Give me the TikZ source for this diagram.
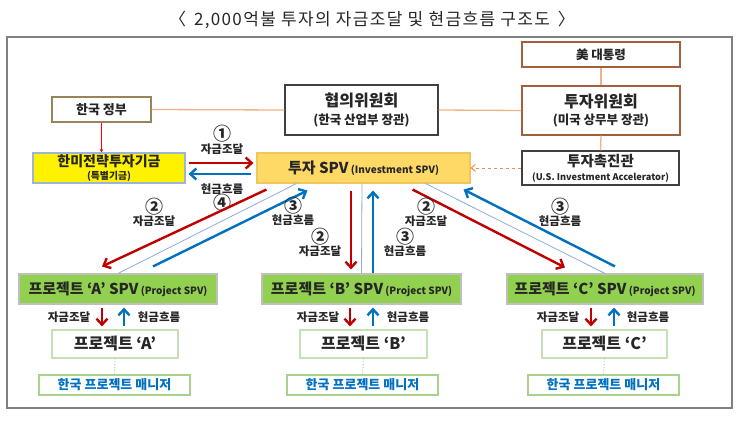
\documentclass[tikz,border=0pt]{standalone}
\usepackage{fontspec}
\setmainfont{Noto Sans CJK KR}
\newfontfamily\titlefont[LetterSpace=8]{Noto Sans CJK KR}
\usetikzlibrary{arrows.meta,calc}
\definecolor{txt}{HTML}{262626}
\definecolor{redA}{HTML}{C00000}
\definecolor{blueA}{HTML}{0070C0}
\definecolor{thinB}{HTML}{8FAADC}
\definecolor{peach}{HTML}{F4B183}
\definecolor{dashO}{HTML}{F08C50}
\definecolor{khaki}{HTML}{978459}
\definecolor{sienna}{HTML}{A0603A}
\definecolor{dgray}{HTML}{404040}
\definecolor{spvfill}{HTML}{FFD966}
\definecolor{spvdraw}{HTML}{F2C55C}
\definecolor{gfill}{HTML}{92D050}
\definecolor{lgreen}{HTML}{C5E0B4}
\definecolor{mgreen}{HTML}{A9D18E}
\definecolor{fundedge}{HTML}{9DB4D8}
\newcommand{\fsz}[1]{\fontsize{#1}{#1}\selectfont}
\begin{document}
\begin{tikzpicture}[x=1pt,y=-1pt,
  box/.style={draw, line width=1.1pt, inner sep=0pt, align=center, text=txt, font=\bfseries},
  bigred/.style={draw=redA, line width=2.4pt, -{Straight Barb[length=6pt,width=11pt]}},
  bigblue/.style={draw=blueA, line width=2.4pt, -{Straight Barb[length=6pt,width=11pt]}},
  thinline/.style={draw=thinB, line width=0.8pt},
  peachline/.style={draw=peach, line width=1.3pt},
  lbl/.style={text=txt, font=\bfseries\fsz{11.5}, inner sep=0pt, align=center},
  num/.style={text=txt, font=\bfseries\fsz{18}, inner sep=0pt}]
\useasboundingbox (0,0) rectangle (743,420);
\node[text=txt, font=\titlefont\fsz{17}] (title) at (372,20) {〈\, 2,000억불 투자의 자금조달 및 현금흐름 구조도 \,〉};
\node[draw=gray, line width=1.3pt, minimum width=725pt, minimum height=371pt, inner sep=0pt] (frame) at (369.5,222.5) {};
% top row
\node[box, draw=khaki, minimum width=99pt, minimum height=25pt, font=\bfseries\fsz{13}] (gov) at (101.5,109.5) {한국 정부};
\node[box, draw=dgray, minimum width=153pt, minimum height=50pt] (hyub) at (361.5,110) {{\fsz{16}협의위원회}\\[4pt]{\fsz{12.5}(한국 산업부 장관)}};
\node[box, draw=sienna, minimum width=158pt, minimum height=25pt, font=\bfseries\fsz{12.5}] (pres) at (601,54.5) {美 대통령};
\node[box, draw=sienna, minimum width=158pt, minimum height=49pt] (tuwi) at (601,110.5) {{\fsz{16}투자위원회}\\[4pt]{\fsz{12.5}(미국 상무부 장관)}};
\node[box, draw=dgray, minimum width=157pt, minimum height=34pt] (accel) at (600.5,168) {{\fsz{14.5}투자촉진관}\\[2pt]{\fsz{9.2}(U.S. Investment Accelerator)}};
\node[box, draw=fundedge, fill=yellow, minimum width=152pt, minimum height=30pt] (fund) at (109,168) {{\fsz{14}한미전략투자기금}\\[1pt]{\fsz{9.8}(특별기금)}};
\node[box, draw=spvdraw, fill=spvfill, minimum width=213pt, minimum height=30pt] (spv) at (363.5,168) {{\fsz{15}투자 SPV} {\fsz{10}(Investment SPV)}};
% project SPVs
\node[box, draw=lightgray, fill=gfill, minimum width=198pt, minimum height=30pt] (spvA) at (118,289) {{\fsz{15}프로젝트 ‘A’ SPV} {\fsz{10}(Project SPV)}};
\node[box, draw=lightgray, fill=gfill, minimum width=199pt, minimum height=30pt] (spvB) at (361.5,289) {{\fsz{15}프로젝트 ‘B’ SPV} {\fsz{10}(Project SPV)}};
\node[box, draw=lightgray, fill=gfill, minimum width=196pt, minimum height=30pt] (spvC) at (605,289) {{\fsz{15}프로젝트 ‘C’ SPV} {\fsz{10}(Project SPV)}};
\node[box, draw=lgreen, minimum width=126pt, minimum height=28pt, font=\bfseries\fsz{16}] (projA) at (115,344) {프로젝트 ‘A’};
\node[box, draw=lgreen, minimum width=127pt, minimum height=28pt, font=\bfseries\fsz{16}] (projB) at (363.5,344) {프로젝트 ‘B’};
\node[box, draw=lgreen, minimum width=125pt, minimum height=28pt, font=\bfseries\fsz{16}] (projC) at (604.5,344) {프로젝트 ‘C’};
\node[box, draw=mgreen, text=blueA, minimum width=151pt, minimum height=20pt, font=\bfseries\fsz{13}] (mgrA) at (114.5,385) {한국 프로젝트 매니저};
\node[box, draw=mgreen, text=blueA, minimum width=151pt, minimum height=20pt, font=\bfseries\fsz{13}] (mgrB) at (362.5,385) {한국 프로젝트 매니저};
\node[box, draw=mgreen, text=blueA, minimum width=151pt, minimum height=20pt, font=\bfseries\fsz{13}] (mgrC) at (603.5,385) {한국 프로젝트 매니저};
% top connectors
\draw[peachline] (gov.east) -- (hyub.west);
\draw[peachline] (hyub.east) -- (tuwi.west);
\draw[peachline] (pres.south) -- (tuwi.north);
\draw[peachline] (tuwi.south) -- (accel.north);
\draw[draw=dashO, line width=1pt, dashed, -{Straight Barb[length=4pt,width=7pt]}] (accel.west) -- (spv.east);
\draw[draw=red, line width=0.8pt, -{Triangle[length=3pt,width=3pt]}] (gov.south) -- (gov.south |- fund.north);
% fund <-> spv
\draw[bigred] ([xshift=3pt,yshift=5pt]fund.east) -- ([xshift=-3pt,yshift=5pt]spv.west);
\draw[bigblue] ([xshift=-5pt,yshift=-6pt]spv.west) -- ([xshift=3pt,yshift=-6pt]fund.east);
\node[num] at (222,134) {①};
\node[lbl] at (222,149) {자금조달};
\node[lbl] at (222,189) {현금흐름};
\node[num] at (222,203) {④};
% to A
\draw[bigred] ([xshift=10pt,yshift=-6pt]spv.south west) -- ([xshift=-16pt,yshift=7pt]spvA.north);
\draw[thinline] ([xshift=40pt]spv.south west) -- (spvA.north);
\draw[bigblue] ([xshift=35pt,yshift=7pt]spvA.north) -- ([xshift=51pt,yshift=-7pt]spv.south west);
\node[num] at (154,207) {②};
\node[lbl] at (154,221) {자금조달};
\node[num] at (293,206) {③};
\node[lbl] at (293,220) {현금흐름};
% to B
\draw[bigred] ([xshift=-12.5pt,yshift=-7pt]spv.south) -- ([xshift=-10.5pt,yshift=4pt]spvB.north);
\draw[thinline] ([xshift=-1.5pt]spv.south) -- (spvB.north);
\draw[bigblue] ([xshift=11.5pt]spvB.north) -- ([xshift=9.5pt,yshift=-7pt]spv.south);
\node[num] at (320,237) {②};
\node[lbl] at (320,251) {자금조달};
\node[num] at (405,237) {③};
\node[lbl] at (405,251) {현금흐름};
% to C
\draw[bigred] ([xshift=-58pt,yshift=-6pt]spv.south east) -- ([xshift=-40pt,yshift=6pt]spvC.north);
\draw[thinline] ([xshift=-45pt]spv.south east) -- (spvC.north);
\draw[bigblue] ([xshift=10pt,yshift=7pt]spvC.north) -- ([xshift=-7pt,yshift=-6pt]spv.south east);
\node[num] at (426,207) {②};
\node[lbl] at (426,221) {자금조달};
\node[num] at (560,207) {③};
\node[lbl] at (560,221) {현금흐름};
% small arrows
\draw[bigred] ([xshift=-16pt,yshift=-3pt]spvA.south) -- ([xshift=-13pt,yshift=3pt]projA.north);
\draw[bigblue] ([xshift=9pt,yshift=3pt]projA.north) -- ([xshift=6pt,yshift=-3pt]spvA.south);
\node[lbl] at (69,317) {자금조달};
\node[lbl] at (159,317) {현금흐름};
\draw[bigred] ([xshift=-11.5pt,yshift=-3pt]spvB.south) -- ([xshift=-13.5pt,yshift=3pt]projB.north);
\draw[bigblue] ([xshift=9.5pt,yshift=3pt]projB.north) -- ([xshift=11.5pt,yshift=-3pt]spvB.south);
\node[lbl] at (318,317) {자금조달};
\node[lbl] at (408,317) {현금흐름};
\draw[bigred] ([xshift=-14pt,yshift=-3pt]spvC.south) -- ([xshift=-13.5pt,yshift=3pt]projC.north);
\draw[bigblue] ([xshift=9.5pt,yshift=3pt]projC.north) -- ([xshift=9pt,yshift=-3pt]spvC.south);
\node[lbl] at (558,317) {자금조달};
\node[lbl] at (648,317) {현금흐름};
% dotted
\draw[gray!70, dotted, line width=0.8pt] (projA.south) -- (mgrA.north);
\draw[gray!70, dotted, line width=0.8pt] (projB.south) -- (mgrB.north);
\draw[gray!70, dotted, line width=0.8pt] (projC.south) -- (mgrC.north);
\end{tikzpicture}
\end{document}
